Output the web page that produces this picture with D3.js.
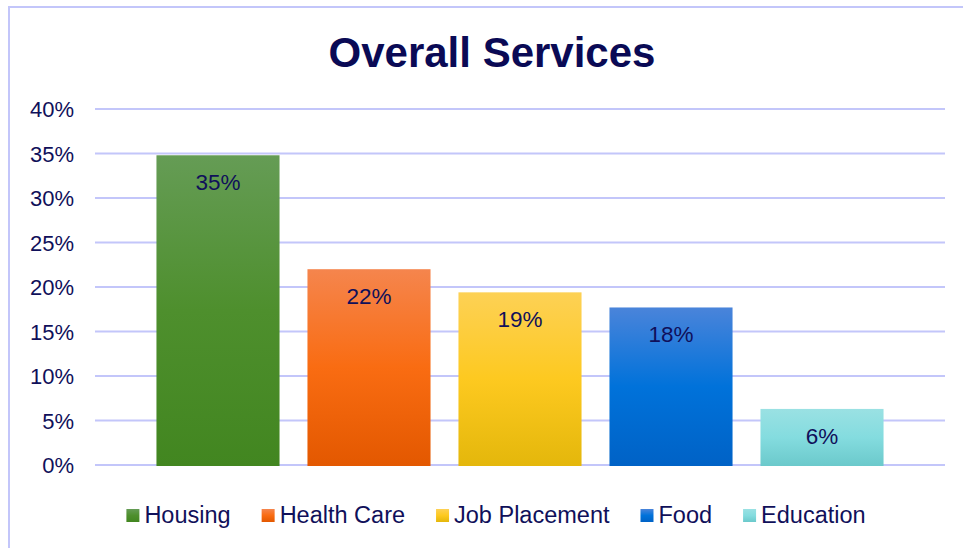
<!DOCTYPE html>
<html>
<head>
<meta charset="utf-8">
<script src="https://cdn.jsdelivr.net/npm/d3@7"></script>
<style>
  body { margin: 0; background: #ffffff; }
  svg text { font-family: Arial, "Liberation Sans", sans-serif; fill: #10105a; }
</style>
</head>
<body>
<div id="chart"></div>
<script>
// chart data
var categories = ['Housing', 'Health Care', 'Job Placement', 'Food', 'Education'];
var values = [0.348, 0.22, 0.194, 0.177, 0.063];
var labels = ['35%', '22%', '19%', '18%', '6%'];
var y_ticks = [0, 0.05, 0.10, 0.15, 0.20, 0.25, 0.30, 0.35, 0.40];
var title = 'Overall Services';

// gradient stops per series: top, middle, bottom
var gradients = [
    ['#659c55', '#4e8f2d', '#428620'],
    ['#f5854d', '#f96c12', '#e35800'],
    ['#fdd155', '#fdc920', '#e4b70b'],
    ['#4a84da', '#0072da', '#0062c6'],
    ['#9ae1e3', '#84dcdf', '#6bc9cb']
];

var width = 963;
var height = 548;

var grid_left = 95;
var grid_right = 945;
var grid_top = 109;
var grid_bottom = 465;
var grid_color = '#c3c6fa';

var svg = d3.select('#chart')
  .append('svg')
    .attr('width', width)
    .attr('height', height);

// gradient definitions
var defs = svg.append('defs');
gradients.forEach(function(g, i) {
    var lg = defs.append('linearGradient')
        .attr('id', 'grad' + i)
        .attr('x1', 0).attr('y1', 0)
        .attr('x2', 0).attr('y2', 1);
    lg.append('stop').attr('offset', '0%').attr('stop-color', g[0]);
    lg.append('stop').attr('offset', '50%').attr('stop-color', g[1]);
    lg.append('stop').attr('offset', '100%').attr('stop-color', g[2]);
});

// chart border (top and left visible)
svg.append('rect')
    .attr('x', 9)
    .attr('y', 7)
    .attr('width', width + 20)
    .attr('height', height + 20)
    .attr('fill', 'none')
    .attr('stroke', grid_color)
    .attr('stroke-width', 2);

var x = d3.scaleBand()
    .domain(categories)
    .range([grid_left, grid_right])
    .paddingInner(0.185)
    .paddingOuter(0.407);

var y = d3.scaleLinear()
    .domain([0, 0.4])
    .range([grid_bottom, grid_top]);

// y grid lines
svg.append('g')
    .selectAll('line.y-grid')
    .data(y_ticks)
  .enter()
    .append('line')
    .attr('class', 'y-grid')
    .attr('stroke', grid_color)
    .attr('stroke-width', 2)
    .attr('x1', grid_left)
    .attr('x2', grid_right)
    .attr('y1', function(d) { return y(d); })
    .attr('y2', function(d) { return y(d); });

// y axis labels
var y_axis = d3.axisLeft(y)
    .tickValues(y_ticks)
    .tickFormat(d3.format('.0%'))
    .tickSize(0)
    .tickPadding(0);

var y_g = svg.append('g')
    .attr('transform', 'translate(74,0)')
    .call(y_axis);
y_g.select('.domain').remove();
y_g.selectAll('text')
    .attr('font-size', '22px')
    .attr('font-family', 'Arial, "Liberation Sans", sans-serif')
    .attr('fill', '#10105a')
    .attr('dy', '0.36em');

// bars
svg.append('g')
    .selectAll('rect.bar')
    .data(values)
  .enter()
    .append('rect')
    .attr('class', 'bar')
    .attr('x', function(d, i) { return x(categories[i]); })
    .attr('y', function(d) { return y(d); })
    .attr('width', x.bandwidth())
    .attr('height', function(d) { return grid_bottom + 1 - y(d); })
    .attr('fill', function(d, i) { return 'url(#grad' + i + ')'; });

// bar labels
svg.append('g')
    .selectAll('text.bar-label')
    .data(values)
  .enter()
    .append('text')
    .attr('class', 'bar-label')
    .attr('font-size', '22.5px')
    .style('text-anchor', 'middle')
    .attr('x', function(d, i) { return x(categories[i]) + x.bandwidth() / 2; })
    .attr('y', function(d) { return y(d) + 35; })
    .text(function(d, i) { return labels[i]; });

// title
svg.append('text')
    .attr('x', 492)
    .attr('y', 67)
    .attr('font-size', '42px')
    .attr('font-weight', 'bold')
    .style('text-anchor', 'middle')
    .style('fill', '#0a0a55')
    .text(title);

// legend
var legend = svg.append('g');
var lx = 0;
categories.forEach(function(c, i) {
    var item = legend.append('g').attr('transform', 'translate(' + lx + ',0)');
    item.append('rect')
        .attr('x', 0)
        .attr('y', -14)
        .attr('width', 13)
        .attr('height', 13)
        .attr('fill', 'url(#grad' + i + ')');
    var t = item.append('text')
        .attr('x', 18)
        .attr('y', 0)
        .attr('font-size', '23.5px')
        .text(c);
    lx += 18 + t.node().getComputedTextLength() + 31;
});
var legend_w = lx - 31;
legend.attr('transform', 'translate(' + (496 - legend_w / 2) + ',523)');
</script>
</body>
</html>
